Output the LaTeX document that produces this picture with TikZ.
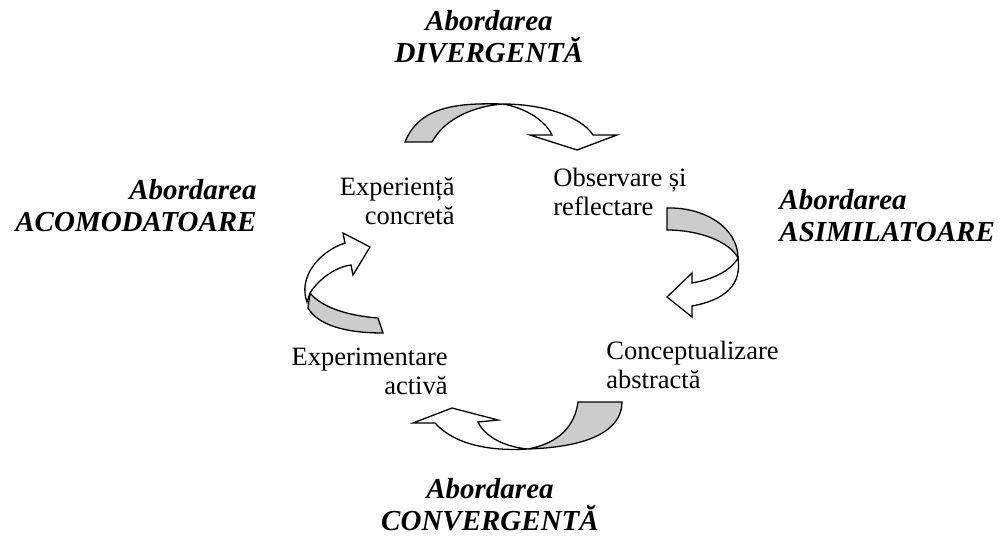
\documentclass[tikz,border=0pt]{standalone}
\usepackage{fontspec}
\setmainfont{Liberation Serif}
\definecolor{backside}{RGB}{204,204,204}
\begin{document}
\begin{tikzpicture}[x=0.5pt,y=-0.5pt,
  shadeband/.style={draw=black, fill=backside, line width=0.65pt, line join=miter},
  frontband/.style={draw=black, fill=white, line width=0.65pt, line join=miter},
  stage/.style={inner sep=0pt, font=\fontsize{13.25pt}{14.5pt}\selectfont},
  style/.style={inner sep=0pt, font=\fontsize{14.5pt}{16pt}\selectfont\bfseries\itshape}]
\useasboundingbox (0,0) rectangle (1000,555);

% learning styles (anchored at the baseline of the last line)
\node[style, anchor=base, align=center] (div) at (489,63) {Abordarea\\DIVERGENTĂ};
\node[style, anchor=base east, align=right] (aco) at (257,232) {Abordarea\\ACOMODATOARE};
\node[style, anchor=base west, align=left] (asi) at (779,242) {Abordarea\\ASIMILATOARE};
\node[style, anchor=base, align=center] (con) at (490,530) {Abordarea\\CONVERGENTĂ};

% stages of the cycle
\node[stage, anchor=base east, align=right] (exp) at (455,225) {Experiență\\concretă};
\node[stage, anchor=base west, align=left] (obs) at (553,216) {Observare și\\reflectare};
\node[stage, anchor=base west, align=left] (cpt) at (606,388) {Conceptualizare\\abstractă};
\node[stage, anchor=base east, align=right] (act) at (448,394) {Experimentare\\activă};

% top curved arrow
\filldraw[shadeband] (405,142) .. controls (420,105) and (460,103) .. (503,104)
  .. controls (475,106) and (445,118) .. (432,142) -- cycle;
\filldraw[frontband] (503,104) .. controls (540,104) and (580,115) .. (593,135)
  -- (617,135) -- (577,150) -- (530,135) -- (552,135)
  .. controls (545,120) and (525,108) .. (503,104) -- cycle;

% right curved arrow
\filldraw[shadeband] (667,208) .. controls (705,207) and (738,228) .. (738,258)
  .. controls (730,242) and (700,230) .. (667,230) -- cycle;
\filldraw[frontband] (738,258) .. controls (742,285) and (725,300) .. (692,306)
  -- (692,317) -- (667,297) -- (692,273) -- (692,283)
  .. controls (710,280) and (730,272) .. (738,258) -- cycle;

% bottom curved arrow
\filldraw[shadeband] (578,402) -- (622,402) .. controls (622,430) and (590,447) .. (528,449)
  .. controls (560,443) and (575,425) .. (578,402) -- cycle;
\filldraw[frontband] (528,449) .. controls (480,452) and (450,440) .. (435,423)
  -- (413,423) -- (452,408) -- (498,420) -- (478,422)
  .. controls (485,437) and (505,447) .. (528,449) -- cycle;

% left curved arrow
\filldraw[shadeband] (310,293) -- (308,308) .. controls (318,325) and (345,333) .. (383,333)
  -- (378,318) .. controls (350,316) and (322,308) .. (310,293) -- cycle;
\filldraw[frontband] (307,302) .. controls (298,278) and (318,252) .. (345,243)
  -- (343,233) -- (370,247) -- (353,275) -- (351,265)
  .. controls (335,267) and (318,280) .. (310,293) -- cycle;
\end{tikzpicture}
\end{document}
